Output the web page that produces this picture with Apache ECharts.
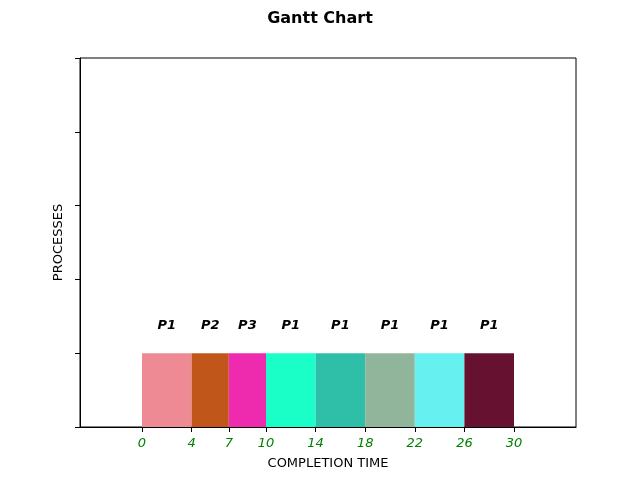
<!DOCTYPE html>
<html>
<head>
<meta charset="utf-8">
<script src="https://cdn.jsdelivr.net/npm/echarts@6/dist/echarts.min.js"></script>
<style>
  html, body { margin: 0; padding: 0; background: #fff; }
  #chart { width: 640px; height: 480px; }
</style>
</head>
<body>
<div id="chart"></div>
<script>
const processes = ["P1", "P2", "P3", "P1", "P1", "P1", "P1", "P1"];
const startTimes = [0, 4, 7, 10, 14, 18, 22, 26];
const completionTimes = [4, 7, 10, 14, 18, 22, 26, 30];
const tickValues = [0, 4, 7, 10, 14, 18, 22, 26, 30];
const palette = ["#EE8A93", "#C1561B", "#EE2AAE", "#1AFFC8", "#2FBFA9", "#91B59B", "#66F0F0", "#671130"];

const font = "DejaVu Sans";
const chart = echarts.init(document.getElementById("chart"));

const rows = processes.map((p, i) => [startTimes[i], completionTimes[i], p, i]);

chart.setOption({
  animation: false,
  title: {
    text: "Gantt Chart",
    left: "center",
    top: 6,
    textStyle: { fontFamily: font, fontSize: 16, fontWeight: "bold", color: "#000" }
  },
  grid: { left: 80, right: 64, top: 58, bottom: 53, show: true, borderColor: "#000", borderWidth: 1 },
  xAxis: {
    type: "value",
    min: -5,
    max: 35,
    name: "COMPLETION TIME",
    nameLocation: "middle",
    nameGap: 30,
    nameTextStyle: { fontFamily: font, fontSize: 13, color: "#000" },
    axisLine: { show: true, onZero: false, lineStyle: { color: "#000" } },
    axisTick: { show: true, customValues: tickValues, length: 5, lineStyle: { color: "#000", width: 1 } },
    axisLabel: { customValues: tickValues, fontFamily: font, fontSize: 13, fontStyle: "italic", color: "#008000", margin: 10 },
    splitLine: { show: false }
  },
  yAxis: {
    type: "value",
    min: 0,
    max: 5,
    interval: 1,
    name: "PROCESSES",
    nameLocation: "middle",
    nameGap: 15,
    nameTextStyle: { fontFamily: font, fontSize: 13, color: "#000" },
    axisLine: { show: true, onZero: false, lineStyle: { color: "#000" } },
    axisTick: { show: true, inside: false, length: 5, lineStyle: { color: "#000" } },
    axisLabel: { show: false },
    splitLine: { show: false }
  },
  series: [{
    type: "custom",
    data: rows,
    encode: { x: [0, 1] },
    renderItem: function (params, api) {
      const p0 = api.coord([api.value(0), 0]);
      const p1 = api.coord([api.value(1), 1]);
      const mid = api.coord([(api.value(0) + api.value(1)) / 2, 1.37]);
      const idx = api.value(3);
      return {
        type: "group",
        children: [{
          type: "rect",
          shape: { x: p0[0], y: p1[1], width: p1[0] - p0[0], height: p0[1] - p1[1] },
          style: { fill: palette[idx] }
        }, {
          type: "text",
          x: mid[0],
          y: mid[1],
          style: {
            text: processes[idx],
            fill: "#000",
            font: "italic bold 13px '" + font + "'",
            align: "center",
            verticalAlign: "middle"
          }
        }]
      };
    }
  }]
});
</script>
</body>
</html>
